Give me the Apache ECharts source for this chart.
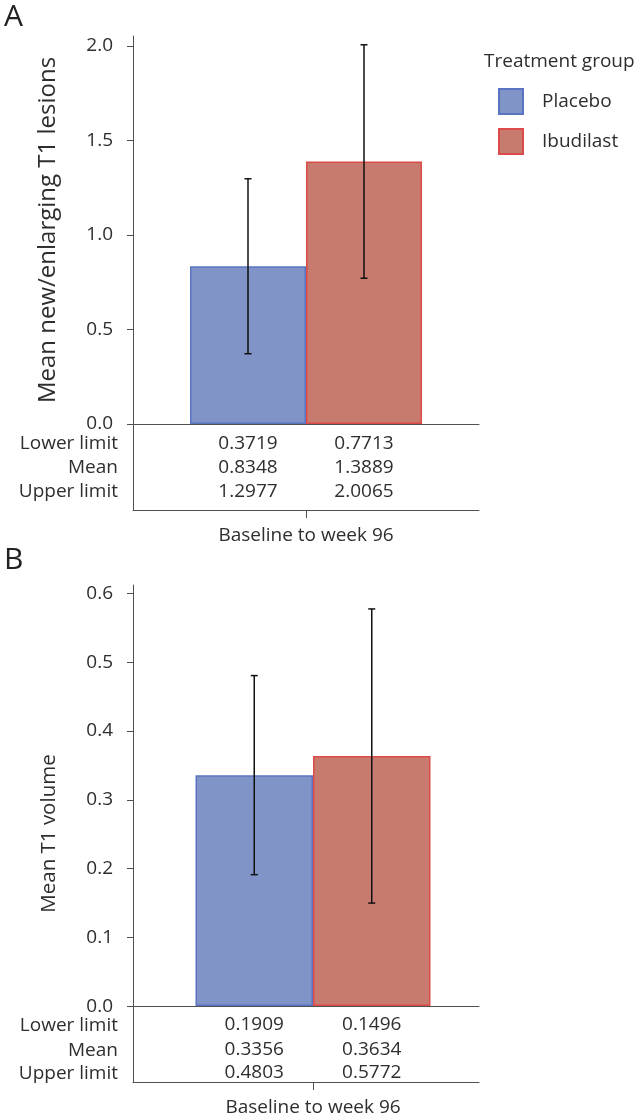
<!DOCTYPE html>
<html><head><meta charset="utf-8">
<script src="https://cdn.jsdelivr.net/npm/echarts@6/dist/echarts.min.js"></script>
<style>html,body{margin:0;padding:0;background:#fff}#c{width:638px;height:1117px}</style>
</head><body><div id="c"></div>
<script>
// ---- data ----
const categories = ['Baseline to week 96'];
const groups = ['Placebo', 'Ibudilast'];
const rowLabels = ['Lower limit', 'Mean', 'Upper limit'];
const lesionLower = [0.3719, 0.7713];
const lesionMean  = [0.8348, 1.3889];
const lesionUpper = [1.2977, 2.0065];
const volumeLower = [0.1909, 0.1496];
const volumeMean  = [0.3356, 0.3634];
const volumeUpper = [0.4803, 0.5772];
const lesionTicks = [0, 0.5, 1.0, 1.5, 2.0];
const volumeTicks = [0, 0.1, 0.2, 0.3, 0.4, 0.5, 0.6];
const lesionTitle = 'Mean new/enlarging T1 lesions';
const volumeTitle = 'Mean T1 volume';

// ---- styles ----
const FONT = "'Open Sans', 'Noto Sans', sans-serif";
const TXT = '#2e2e2e';
const AXC = '#505050';
const FS = 19;
const fills = ['#8094c7', '#c77b6e'];
const borders = ['#5a74c2', '#dc4a4a'];
const BW_A = 116, BW_B = 117.5;
const rowOffA = [20, 44, 68], rowOffB = [19, 44, 67];

const chart = echarts.init(document.getElementById('c'), null, {renderer: 'canvas'});

function tableRenderer(bw, rowOffs) {
  return function (params, api) {
    const cat = api.value(0), g = api.value(1);
    const lo = api.value(2), up = api.value(3), mean = api.value(4);
    const cx = api.coord([cat, 0])[0] + (g - 0.5) * bw;
    const y0 = api.coord([cat, 0])[1];
    const yLo = api.coord([cat, lo])[1];
    const yUp = api.coord([cat, up])[1];
    const ls = {stroke: '#111', lineWidth: 1.5};
    const cap = 3.5;
    const vals = [lo, mean, up];
    const children = [
      {type: 'line', shape: {x1: cx, y1: yLo, x2: cx, y2: yUp}, style: ls},
      {type: 'line', shape: {x1: cx - cap, y1: yLo, x2: cx + cap, y2: yLo}, style: ls},
      {type: 'line', shape: {x1: cx - cap, y1: yUp, x2: cx + cap, y2: yUp}, style: ls}
    ];
    vals.forEach((v, i) => {
      children.push({type: 'text', x: cx, y: y0 + rowOffs[i],
        style: {text: v.toFixed(4), fill: TXT, fontSize: FS, fontFamily: FONT, align: 'center', verticalAlign: 'middle'}});
    });
    return {type: 'group', children: children};
  };
}
function rowLabelRenderer(rowOffs) {
  return function (params, api) {
    const c = api.coord([0, 0]);
    const left = c[0] - api.size([1, 0])[0] / 2;
    return {type: 'group', children: rowLabels.map((t, i) => ({
      type: 'text', x: left - 15, y: c[1] + rowOffs[i],
      style: {text: t, fill: TXT, fontSize: FS, fontFamily: FONT, align: 'right', verticalAlign: 'middle'}
    }))};
  };
}

const lineOnlyX = (grid, onZero) => ({
  type: 'category', gridIndex: grid, data: categories, position: 'bottom',
  axisLine: {show: true, onZero: onZero, lineStyle: {color: AXC, width: 1}},
  axisTick: {show: false}, axisLabel: {show: false}, splitLine: {show: false}
});
const labelX = (grid, offset) => ({
  type: 'category', gridIndex: grid, data: categories, position: 'bottom', offset: offset,
  axisLine: {show: false, onZero: false},
  axisTick: {show: true, alignWithLabel: true, length: 8, lineStyle: {color: AXC}},
  axisLabel: {show: true, margin: 16, fontSize: FS, fontFamily: FONT, color: TXT},
  splitLine: {show: false}
});
const frameY = (grid, min, max, ticks, name, nameSize) => ({
  type: 'value', gridIndex: grid, min: min, max: max,
  axisLine: {show: true, lineStyle: {color: AXC, width: 1}},
  axisTick: {show: true, length: 6, customValues: ticks, lineStyle: {color: AXC}},
  axisLabel: {show: true, customValues: ticks, margin: 20, fontSize: FS, fontFamily: FONT, color: TXT,
              formatter: v => v.toFixed(1)},
  splitLine: {show: false},
  name: name, nameLocation: 'middle', nameGap: 73,
  nameTextStyle: {fontSize: nameSize || 20, fontFamily: FONT, color: TXT}
});
const plotY = (grid, max, name, nameSize) => ({
  type: 'value', gridIndex: grid, min: 0, max: max, show: !!name,
  axisLine: {show: false}, axisTick: {show: false}, axisLabel: {show: false}, splitLine: {show: false},
  name: name || '', nameLocation: 'middle', nameGap: 73,
  nameTextStyle: {fontSize: nameSize || 20, fontFamily: FONT, color: TXT}
});

const barSeries = (name, i, xi, yi, data, bw) => ({
  type: 'bar', name: name, xAxisIndex: xi, yAxisIndex: yi, data: [data[i]],
  barWidth: bw, barGap: '0%',
  itemStyle: {color: fills[i], borderColor: borders[i], borderWidth: 1.5},
  emphasis: {disabled: true}, z: 2
});

const option = {
  animation: false,
  backgroundColor: '#fff',
  textStyle: {fontFamily: FONT},
  title: [
    {text: 'A', left: 4, top: 2, padding: 0, textStyle: {fontSize: 30, fontWeight: 'normal', color: '#222', fontFamily: FONT}},
    {text: 'B', left: 4, top: 545, padding: 0, textStyle: {fontSize: 30, fontWeight: 'normal', color: '#222', fontFamily: FONT}},
    {text: 'Treatment group', left: 484, top: 52, padding: 0, textStyle: {fontSize: 19, fontWeight: 'normal', color: TXT, fontFamily: FONT}}
  ],
  legend: {
    data: groups, orient: 'vertical', left: 498, top: 88, padding: 0,
    itemWidth: 24, itemHeight: 25, itemGap: 13, icon: 'rect',
    textStyle: {fontSize: 19, color: TXT, fontFamily: FONT, padding: [0, 0, 0, 14]},
    selectedMode: false
  },
  grid: [
    {left: 133, width: 346, top: 36, height: 474},
    {left: 133, width: 346, top: 36, height: 388},
    {left: 133, width: 346, top: 585, height: 497},
    {left: 147, width: 332, top: 585, height: 421}
  ],
  xAxis: [
    lineOnlyX(0, false), lineOnlyX(0, true), labelX(1, 86),
    lineOnlyX(2, false), lineOnlyX(2, true), labelX(3, 76)
  ],
  yAxis: [
    frameY(0, -0.455, 2.053, lesionTicks, ''),
    plotY(1, 2.053, lesionTitle, 24),
    frameY(2, -0.110, 0.612, volumeTicks, volumeTitle, 20.5),
    plotY(3, 0.612, '')
  ],
  series: [
    barSeries(groups[0], 0, 2, 1, lesionMean, BW_A),
    barSeries(groups[1], 1, 2, 1, lesionMean, BW_A),
    {type: 'custom', name: 'errA', xAxisIndex: 2, yAxisIndex: 1, clip: false, z: 5,
     renderItem: tableRenderer(BW_A, rowOffA),
     data: groups.map((g, i) => [0, i, lesionLower[i], lesionUpper[i], lesionMean[i]])},
    {type: 'custom', name: 'rowsA', xAxisIndex: 0, yAxisIndex: 0, clip: false, z: 5,
     renderItem: rowLabelRenderer(rowOffA), data: [[0, 0]]},
    barSeries(groups[0], 0, 5, 3, volumeMean, BW_B),
    barSeries(groups[1], 1, 5, 3, volumeMean, BW_B),
    {type: 'custom', name: 'errB', xAxisIndex: 5, yAxisIndex: 3, clip: false, z: 5,
     renderItem: tableRenderer(BW_B, rowOffB),
     data: groups.map((g, i) => [0, i, volumeLower[i], volumeUpper[i], volumeMean[i]])},
    {type: 'custom', name: 'rowsB', xAxisIndex: 3, yAxisIndex: 2, clip: false, z: 5,
     renderItem: rowLabelRenderer(rowOffB), data: [[0, 0]]}
  ]
};
chart.setOption(option);
</script></body></html>
